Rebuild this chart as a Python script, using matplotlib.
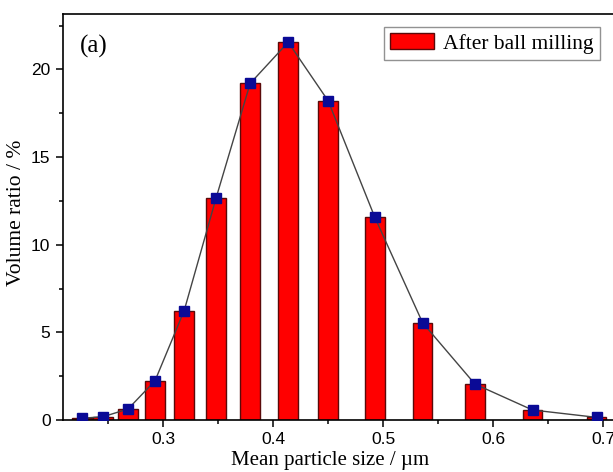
import matplotlib
matplotlib.use("Agg")
import matplotlib.pyplot as plt
from matplotlib.ticker import MultipleLocator

# particle size bins (um) and volume ratio (%)
sizes = [0.226, 0.2455, 0.268, 0.2925, 0.319, 0.348, 0.379,
         0.4136, 0.450, 0.4924, 0.5358, 0.5834, 0.6358, 0.694]
ratio = [0.10, 0.19, 0.63, 2.24, 6.24, 12.66, 19.2,
         21.55, 18.2, 11.56, 5.55, 2.05, 0.57, 0.15]
legend_label = "After ball milling"

serif = "Liberation Serif"
sans = "Liberation Sans"

fig = plt.figure(figsize=(6.13, 4.72), dpi=100)
ax = fig.add_axes([63/613, 52/472, 552/613, 406/472])

ax.bar(sizes, ratio, width=0.018, color="#ff0000", edgecolor="#5a0a0a",
       linewidth=1.0, label=legend_label, zorder=2)
ax.plot(sizes, ratio, "-", color="#444444", lw=1.0, zorder=3)
ax.plot(sizes, ratio, "s", color="#0a0a96", ms=6.5, mec="#0a0a96", zorder=4)

ax.set_xlim(0.2088, 0.7108)
ax.set_ylim(0, 23.16)
ax.xaxis.set_major_locator(MultipleLocator(0.1))
ax.xaxis.set_minor_locator(MultipleLocator(0.05))
ax.yaxis.set_major_locator(MultipleLocator(5))
ax.yaxis.set_minor_locator(MultipleLocator(2.5))
ax.tick_params(which="both", direction="out", width=1.1, top=False, right=False)
ax.tick_params(which="major", length=5, pad=4, labelsize=12.5)
ax.tick_params(which="minor", length=3)
for lab in ax.get_xticklabels() + ax.get_yticklabels():
    lab.set_fontfamily(sans)
ax.xaxis.set_major_formatter(plt.FuncFormatter(lambda v, p: "%g" % round(v, 2)))

for s in ax.spines.values():
    s.set_linewidth(1.2)

ax.set_xlabel("Mean particle size / µm", fontfamily=serif, fontsize=15)
ax.set_ylabel("Volume ratio / %", fontfamily=serif, fontsize=15.5)
ax.xaxis.set_label_coords(0.4837, -0.077)
ax.yaxis.set_label_coords(-0.067, 0.51)

fig.text(80/613, 1 - 46/472, "(a)", fontfamily=serif, fontsize=18, va="center")

leg = ax.legend(loc="upper right", bbox_to_anchor=(600/613, 1 - 27/472),
                bbox_transform=fig.transFigure, prop={"family": serif, "size": 15.5},
                fancybox=False, frameon=True, borderpad=0.3, handlelength=2.05,
                handleheight=0.75, handletextpad=0.4, borderaxespad=0)
leg.get_frame().set_edgecolor("#777777")
leg.get_frame().set_linewidth(1.0)

fig.savefig("out.png", dpi=100)
